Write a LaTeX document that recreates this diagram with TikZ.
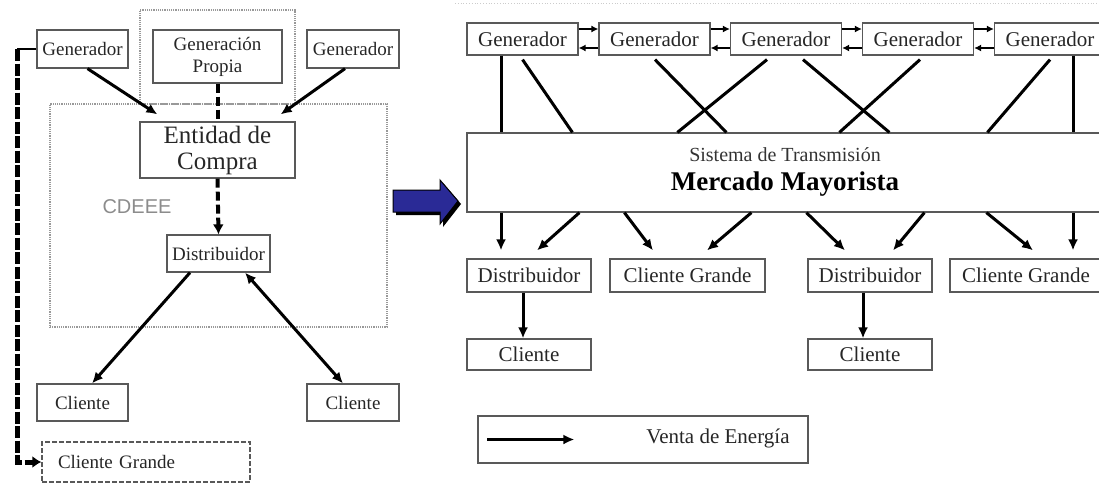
\documentclass[tikz,border=0pt]{standalone}
\usepackage{fontspec}
\setmainfont{Liberation Serif}
\setsansfont{Liberation Sans}
\usepackage{tikz}
\usetikzlibrary{arrows.meta}

\definecolor{azulflecha}{RGB}{42,42,150}
\newcommand{\fizq}{\fontsize{19}{22}\selectfont}
\newcommand{\fder}{\fontsize{21}{23}\selectfont}

\tikzset{
  caja/.style={draw=black!65, line width=1.2pt, inner sep=0pt, text=black!85},
  marco/.style={draw=black!40, densely dotted, line width=1.2pt},
  linea/.style={line width=3pt},
  venta/.style={line width=3pt, -{Latex[length=11pt,width=10pt]}},
  enlace/.style={line width=1.4pt, -{Latex[length=7pt,width=7pt]}},
}

\begin{document}
\begin{tikzpicture}[x=1pt, y=-1pt]
\useasboundingbox (0,0) rectangle (1099,483);
% Esquema con CDEEE (izquierda)
\node[marco, minimum width=155pt, minimum height=94pt] (marcoprop) at (217.5,57) {};
\node[marco, minimum width=337pt, minimum height=223pt] (cdeee) at (218.5,215.5) {};
\node[caja, font=\fizq, minimum width=91pt, minimum height=38pt] (g1L) at (82.5,49) {Generador};
\node[caja, font=\fizq, minimum width=129pt, minimum height=53pt, align=center] (propia) at (217.5,56.5) {Generación\\Propia};
\node[caja, font=\fizq, minimum width=92pt, minimum height=38pt] (g2L) at (353,49) {Generador};
\node[caja, font=\fontsize{25}{26}\selectfont, minimum width=155pt, minimum height=56pt, align=center] (entidad) at (217.5,150) {Entidad de\\Compra};
\node[font=\sffamily\fontsize{20}{22}\selectfont, text=black!45] (sigla) at (137,207) {CDEEE};
\node[caja, font=\fizq, minimum width=103pt, minimum height=37pt] (distL) at (218.5,253.5) {Distribuidor};
\node[caja, font=\fizq, minimum width=91pt, minimum height=37pt] (cli1L) at (82.5,402.5) {Cliente};
\node[caja, font=\fizq, minimum width=92pt, minimum height=37pt] (cli2L) at (353,402.5) {Cliente};
\node[caja, dash pattern=on 5pt off 2pt, font=\fizq, minimum width=208pt, minimum height=40pt, text width=176pt, align=left] (cgL) at (146,462) {Cliente Grande};
\coordinate (codo) at (17,462);

\draw[venta] ([xshift=5pt]g1L.south) -- ([xshift=18pt,yshift=7pt]entidad.north west);
\draw[venta] ([xshift=-8pt]g2L.south) -- ([xshift=-15pt,yshift=7pt]entidad.north east);
\draw[line width=4pt, dash pattern=on 9pt off 4pt] (propia.south) -- (entidad.north);
\draw[line width=4pt, dash pattern=on 9pt off 4pt, -{Latex[length=10pt,width=11pt]}] (entidad.south) -- (distL.north);
\draw[venta] ([xshift=-28.5pt]distL.south) -- ([xshift=9.5pt]cli1L.north);
\draw[venta, {Latex[length=11pt,width=10pt]}-{Latex[length=11pt,width=10pt]}] ([xshift=26.5pt]distL.south) -- ([xshift=-10pt]cli2L.north);
\draw[line width=1.4pt] (g1L.west) -- (g1L.west -| codo);
\draw[line width=5pt, dash pattern=on 12pt off 2.5pt, -{Latex[length=9pt,width=12pt]}] (g1L.west -| codo) -- (codo) -- (cgL.west);

% Flecha azul
\fill[black] (396,193) -- (443,193) -- (443,183) -- (461,204) -- (443,227) -- (443,215) -- (396,215) -- cycle;
\draw[black, line width=1pt, fill=azulflecha] (393,190) -- (440,190) -- (440,180) -- (458,201) -- (440,224) -- (440,212) -- (393,212) -- cycle;

% Mercado mayorista (derecha)
\draw[black!20, dotted, line width=0.8pt] (455,3) -- (1099,3);
\foreach \n/\x in {1/522.5, 2/654.5, 3/786, 4/918, 5/1050}
  \node[caja, font=\fder, minimum width=111pt, minimum height=32pt] (g\n) at (\x,39) {Generador};
\foreach \i/\j in {1/2, 2/3, 3/4, 4/5} {
  \draw[enlace] ([yshift=10pt]g\i.east) -- ([yshift=10pt]g\j.west);
  \draw[enlace] ([yshift=-9pt]g\j.west) -- ([yshift=-9pt]g\i.east);
}
\node[caja, minimum width=635pt, minimum height=79pt] (mm) at (784.5,172.5) {};
\node[font=\fontsize{20}{22}\selectfont, text=black!80] (sist) at (785,155) {Sistema de Transmisión};
\node[font=\fontsize{27}{29}\selectfont\bfseries] (merc) at (785,184) {Mercado Mayorista};

\draw[linea] ([xshift=-21.5pt]g1.south) -- ([xshift=-21.5pt]g1.south |- mm.north);
\draw[linea] ([xshift=23pt]g5.south) -- ([xshift=23pt]g5.south |- mm.north);
\foreach \gen/\dx/\tx in {1/0/106, 2/0.5/260, 3/-19/211, 3/17/423, 4/2/373, 5/0/521}
  \draw[linea] ([xshift=\dx pt,yshift=-4pt]g\gen.south) -- ([xshift=\tx pt]mm.north west);

\node[caja, font=\fder, minimum width=124pt, minimum height=33pt] (d1) at (529,275.5) {Distribuidor};
\node[caja, font=\fder, minimum width=155pt, minimum height=33pt] (cg1) at (687.5,275.5) {Cliente Grande};
\node[caja, font=\fder, minimum width=124pt, minimum height=33pt] (d2) at (870,275.5) {Distribuidor};
\node[caja, font=\fder, minimum width=152pt, minimum height=33pt] (cg2) at (1026,275.5) {Cliente Grande};
\node[caja, font=\fder, minimum width=124pt, minimum height=31pt] (c1) at (529,354.5) {Cliente};
\node[caja, font=\fder, minimum width=124pt, minimum height=31pt] (c2) at (870,354.5) {Cliente};

\draw[venta] ([xshift=-28pt]d1.north |- mm.south) -- ([xshift=-28pt,yshift=8pt]d1.north);
\draw[venta] ([xshift=47pt]cg2.north |- mm.south) -- ([xshift=47pt,yshift=8pt]cg2.north);
\foreach \sx/\dest/\tx in {113/d1/8, 158/cg1/-34.5, 285/cg1/19.5, 340/d2/-25, 458/d2/23, 520/cg2/7}
  \draw[venta] ([xshift=\sx pt]mm.south west) -- ([xshift=\tx pt,yshift=8pt]\dest.north);
\draw[venta] ([xshift=-6pt]d1.south) -- ([xshift=-6pt]c1.north);
\draw[venta] ([xshift=-7pt]d2.south) -- ([xshift=-7pt]c2.north);

% Leyenda
\node[caja, minimum width=330pt, minimum height=47pt] (leyenda) at (643,439.5) {};
\draw[venta] ([xshift=10pt]leyenda.west) -- ([xshift=97pt]leyenda.west);
\node[font=\fder, text=black!85] (ventatxt) at (718,438) {Venta de Energía};
\end{tikzpicture}
\end{document}
